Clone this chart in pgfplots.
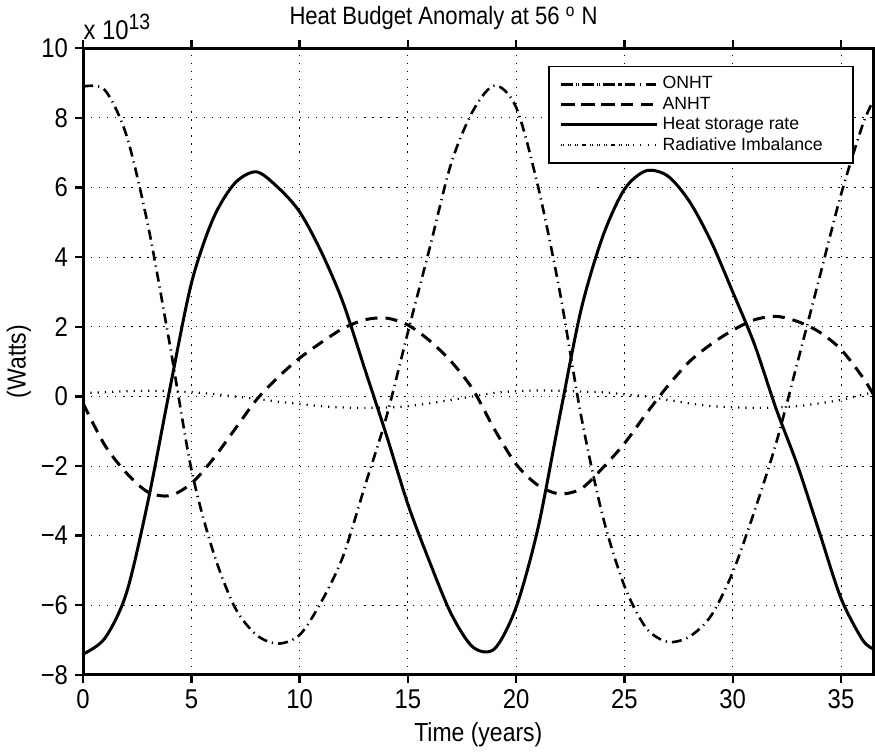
\documentclass[border=0pt]{standalone}
\usepackage{fontspec}
\setmainfont{Liberation Sans}[FakeStretch=0.88]
\newfontfamily\legfont{Liberation Sans}
\usepackage{pgfplots}
\usepackage{pgfplotstable}
\pgfplotsset{compat=1.18}

% values in units of 1e13 W
\pgfplotstableread{
t v
0 8.9
1 8.8
2 7.5
3 4.9
4 1.5
5 -2.1
6 -4.45
7 -6.05
8 -6.85
9 -7.1
10 -6.85
11 -5.9
12 -4.6
13 -2.6
14 -0.6
15 1.85
16 4.25
17 6.7
18 8.2
19 8.93
20 8.3
21 6.05
22 3.05
23 -0.57
24 -3.45
25 -5.45
26 -6.65
27 -7.05
28 -6.9
29 -6.3
30 -5.05
31 -3.3
32 -1.35
33 1.0
34 3.4
35 5.8
36 7.8
36.5 8.5
}\onht

\pgfplotstableread{
t v
0 -0.2
1 -1.4
2 -2.2
3 -2.75
4 -2.85
5 -2.5
6 -1.8
7 -0.95
8 -0.1
9 0.55
10 1.1
11 1.55
12 1.95
13 2.2
14 2.25
15 2.05
16 1.6
17 1.0
18 0.2
19 -0.95
20 -1.95
21 -2.55
22 -2.8
23 -2.65
24 -2.05
25 -1.35
26 -0.5
27 0.3
28 1.0
29 1.5
30 1.9
31 2.2
32 2.3
33 2.15
34 1.85
35 1.35
36 0.55
36.5 0.05
}\anht

\pgfplotstableread{
t v
0 -7.4
1 -6.95
2 -5.65
3 -3.0
4 0.2
5 3.25
6 5.1
7 6.12
8 6.45
9 6.0
10 5.3
11 4.15
12 2.7
13 0.8
14 -1.1
15 -3.1
16 -4.75
17 -6.25
18 -7.2
19 -7.25
20 -6.05
21 -3.8
22 -0.6
23 2.5
24 4.6
25 5.95
26 6.48
27 6.33
28 5.6
29 4.45
30 3.0
31 1.5
32 -0.35
33 -2.0
34 -3.9
35 -5.8
36 -7.0
36.5 -7.25
}\storage

\pgfplotstableread{
t v
0 0.1
1 0.12
2 0.15
3 0.16
4 0.15
5 0.12
6 0.07
7 0.0
8 -0.07
9 -0.15
10 -0.22
11 -0.28
12 -0.32
13 -0.33
14 -0.32
15 -0.28
16 -0.2
17 -0.1
18 0.0
19 0.1
20 0.15
21 0.17
22 0.16
23 0.14
24 0.12
25 0.06
26 0.0
27 -0.1
28 -0.2
29 -0.28
30 -0.31
31 -0.33
32 -0.32
33 -0.28
34 -0.2
35 -0.1
36 0.05
36.5 0.12
}\radiative

\begin{document}
\begin{tikzpicture}
\begin{axis}[
  width=393.5pt, height=312pt, scale only axis,
  xmin=0, xmax=36.5, ymin=-8, ymax=10,
  xtick={0,5,...,35},
  ytick={-8,-6,...,10},
  xticklabels={0,5,10,15,20,25,30,35},
  yticklabels={−8,−6,−4,−2,0,2,4,6,8,10},
  ticklabel style={font=\fontsize{13.5}{16}\selectfont},
  tick align=outside, xtick pos=both, ytick pos=left,
  major tick length=4pt,
  tick style={black, line width=1.2pt},
  axis line style={line width=1.5pt},
  grid=major,
  major grid style={black, line width=0.5pt, dash pattern=on 0.6pt off 3.4pt},
  xlabel={Time (years)},
  ylabel={(Watts)},
  label style={font=\fontsize{13}{15}\selectfont},
  xlabel style={yshift=0pt},
  ylabel style={yshift=-2pt},
  title={Heat Budget Anomaly at 56 \textsuperscript{o} N},
  title style={font=\fontsize{12.5}{15}\selectfont, at={(0.456,1)}, anchor=south, yshift=-0.5pt},
  legend style={at={(0.975,0.972)}, anchor=north east, draw=black, line width=0.8pt,
    font=\legfont\fontsize{8.8}{10}\selectfont, row sep=-1.5pt, inner ysep=3pt, inner xsep=5pt},
  legend cell align=left,
  legend image code/.code={\draw[#1] (1pt,0pt) -- (34pt,0pt); \path (0pt,0pt) -- (48pt,0pt);},
]
\addplot[black, line width=1.3pt, smooth, dash pattern=on 5pt off 2.5pt on 0.6pt off 2.5pt] table[x=t,y=v] {\onht};
\addlegendentry{ONHT}
\addplot[black, line width=1.5pt, smooth, dash pattern=on 6pt off 4pt] table[x=t,y=v] {\anht};
\addlegendentry{ANHT}
\addplot[black, line width=1.5pt, smooth] table[x=t,y=v] {\storage};
\addlegendentry{Heat storage rate}
\addplot[black, line width=1.1pt, smooth, dash pattern=on 0.6pt off 3pt] table[x=t,y=v] {\radiative};
\addlegendentry{Radiative Imbalance\hspace*{8pt}}
\end{axis}
\node[anchor=south west, inner sep=0pt, yshift=4pt, font=\fontsize{13.5}{16}\selectfont] at (current axis.north west) {x 10\raisebox{5pt}{\fontsize{11}{13}\selectfont 13}};
\end{tikzpicture}
\end{document}
